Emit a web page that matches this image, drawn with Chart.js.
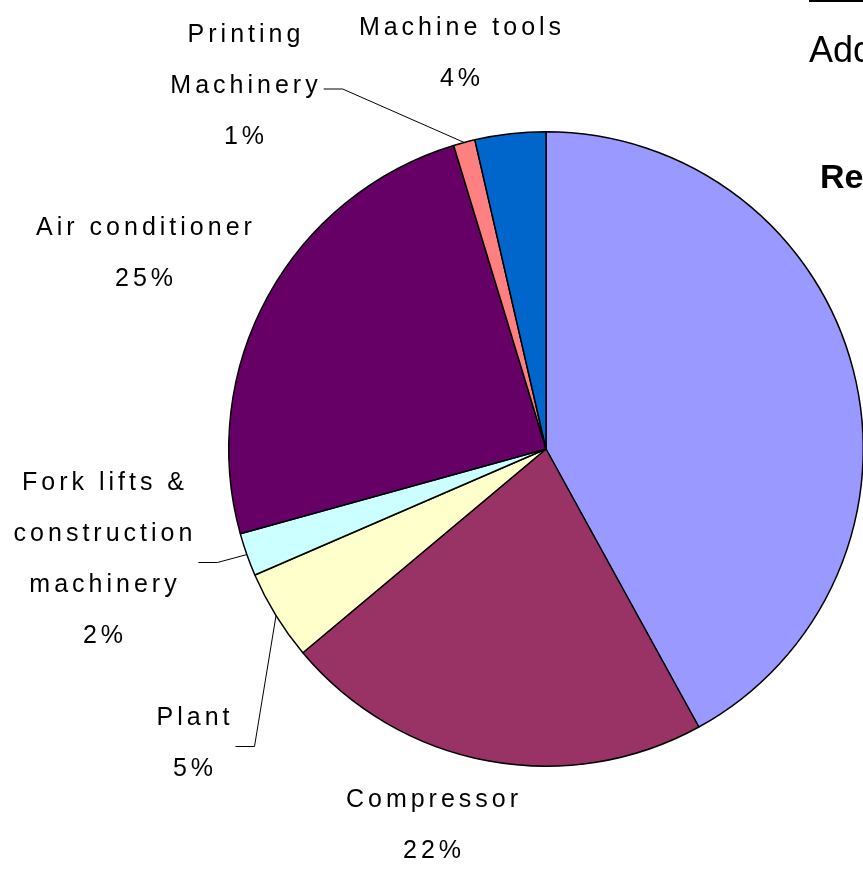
<!DOCTYPE html>
<html>
<head>
<meta charset="utf-8">
<script src="https://cdn.jsdelivr.net/npm/chart.js@4.4.1/dist/chart.umd.min.js"></script>
<style>
  html, body { margin:0; padding:0; background:#fff; overflow:hidden; width:863px; height:874px; }
  #wrap { position:absolute; left:0; top:0; width:880px; height:874px; }
  .side { position:absolute; font-family:"Liberation Sans", Arial, sans-serif; color:#000; white-space:nowrap; }
  #topline { position:absolute; left:809px; top:0; width:60px; height:2px; background:#000; }
</style>
</head>
<body>
<div id="wrap"><canvas id="c" width="880" height="874"></canvas></div>
<div id="topline"></div>
<div class="side" style="left:809px; top:29px; font-size:36px;">Add</div>
<div class="side" style="left:820px; top:157px; font-size:34px; font-weight:bold;">Re</div>
<script>
// ---- data (clockwise from 12 o'clock) ----
const categories = [
  ["Other"],
  ["Compressor"],
  ["Plant"],
  ["Fork lifts &", "construction", "machinery"],
  ["Air conditioner"],
  ["Printing", "Machinery"],
  ["Machine tools"]
];
const shares = [42.0, 21.9, 4.6, 2.2, 24.6, 1.1, 3.6];
const sliceColors = ["#9999FF", "#993366", "#FFFFCC", "#CCFFFF", "#660066", "#FF8080", "#0066CC"];

// ---- label layout (offset of label block from pie centre; leader line flag) ----
const labelLayout = [
  null,
  { dx: -112, dy: 351, leader: false },
  { dx: -351, dy: 269, leader: true },
  { dx: -441, dy: 34,  leader: true },
  { dx: -400, dy: -221, leader: false },
  { dx: -300, dy: -414, leader: true },
  { dx: -84,  dy: -421, leader: false }
];
const LINE_H = 51;
const FONT = '25px "Liberation Sans", Arial, sans-serif';

const labelPlugin = {
  id: 'pieLabels',
  afterDatasetsDraw(chart) {
    const ctx = chart.ctx;
    const meta = chart.getDatasetMeta(0);
    const data = chart.data.datasets[0].data;
    const total = data.reduce((a, b) => a + b, 0);
    ctx.save();
    ctx.font = FONT;
    ctx.letterSpacing = '4px';
    ctx.fillStyle = '#000';
    ctx.textAlign = 'center';
    ctx.textBaseline = 'middle';
    meta.data.forEach((arc, i) => {
      const lay = labelLayout[i];
      if (!lay) return;
      const p = arc.getProps(['x', 'y', 'startAngle', 'endAngle', 'outerRadius'], true);
      const lines = chart.data.labels[i].concat([Math.round(data[i] / total * 100) + '%']);
      const cx = p.x + lay.dx, cy0 = p.y + lay.dy;
      let maxW = 0;
      lines.forEach((t, k) => {
        ctx.fillText(t, cx, cy0 + k * LINE_H);
        maxW = Math.max(maxW, ctx.measureText(t).width);
      });
      if (lay.leader) {
        const mid = (p.startAngle + p.endAngle) / 2;
        const ex = p.x + Math.cos(mid) * p.outerRadius;
        const ey = p.y + Math.sin(mid) * p.outerRadius;
        const ly = cy0 + (lines.length - 1) * LINE_H / 2 + 3;
        const lx = cx + maxW / 2 + 2;
        ctx.beginPath();
        ctx.lineWidth = 1;
        ctx.strokeStyle = '#000';
        ctx.moveTo(lx, ly);
        ctx.lineTo(lx + 19, ly);
        ctx.lineTo(ex, ey);
        ctx.stroke();
      }
    });
    ctx.restore();
  }
};

new Chart(document.getElementById('c'), {
  type: 'pie',
  data: {
    labels: categories,
    datasets: [{
      data: shares,
      backgroundColor: sliceColors,
      borderColor: '#000',
      borderWidth: 1.5,
      borderAlign: 'center'
    }]
  },
  options: {
    responsive: false,
    animation: false,
    devicePixelRatio: 1,
    layout: { padding: { left: 228, right: 16, top: 131, bottom: 107 } },
    plugins: { legend: { display: false }, tooltip: { enabled: false } }
  },
  plugins: [labelPlugin]
});
</script>
</body>
</html>
